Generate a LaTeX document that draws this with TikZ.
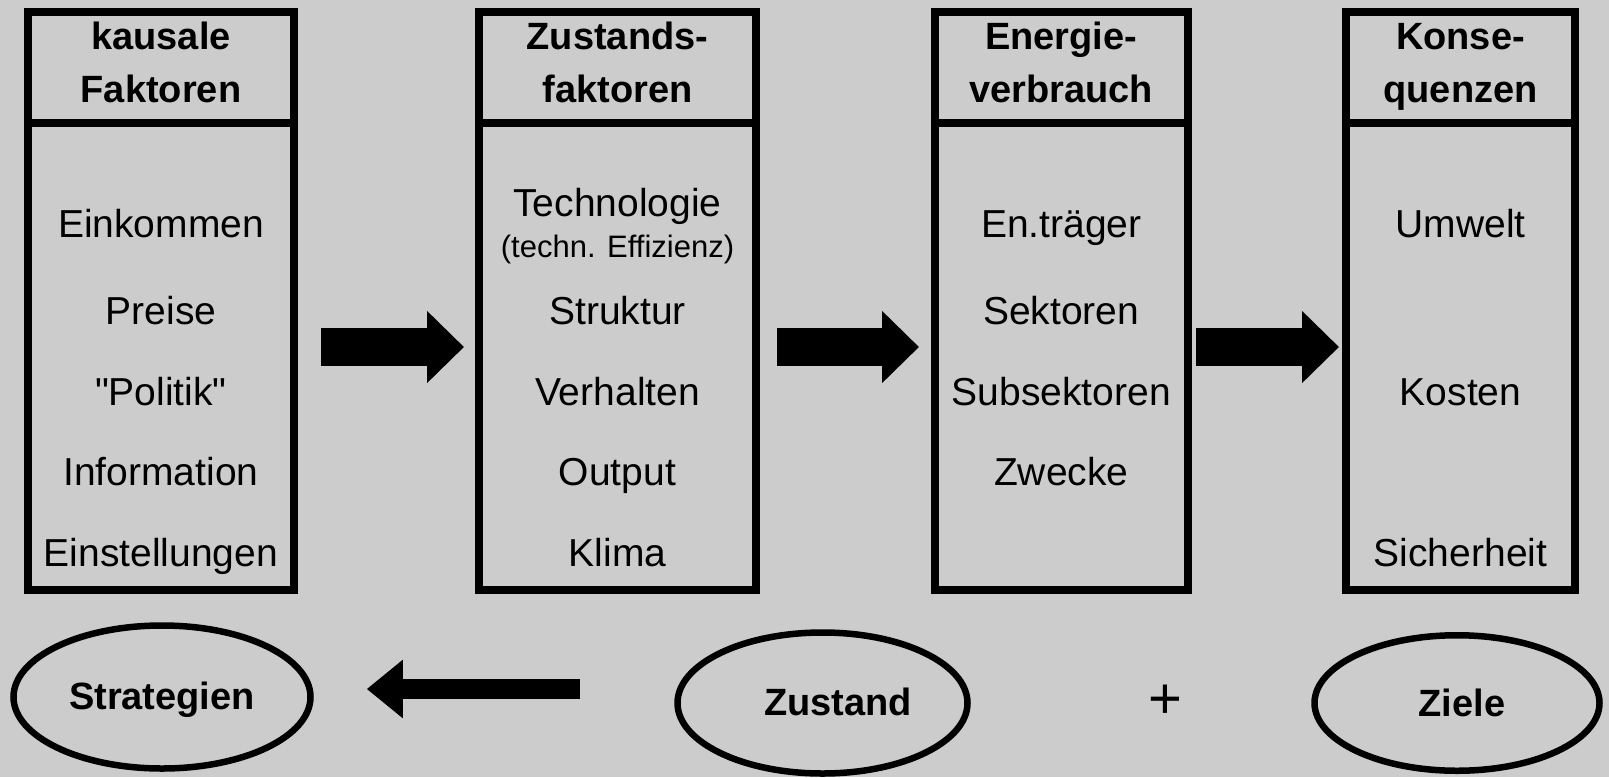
\documentclass[tikz,border=0pt]{standalone}
\usepackage{fontspec}
\setmainfont{Liberation Sans}
\usetikzlibrary{shapes.geometric, arrows.meta}

\definecolor{bggray}{RGB}{204,204,204}

\begin{document}
\begin{tikzpicture}[x=1pt, y=-1pt,
    panel/.style={draw=black, line width=8pt, rectangle, minimum height=578pt, inner sep=0pt},
    divider/.style={draw=black, line width=8pt},
    oval/.style={draw=black, line width=6.5pt, ellipse, inner sep=0pt},
    item/.style={anchor=base, font=\fontsize{39}{47}\selectfont, inner sep=0pt},
    small/.style={anchor=base, font=\fontsize{31}{37}\selectfont, inner sep=0pt},
    head/.style={anchor=base, font=\fontsize{38}{46}\selectfont\bfseries, inner sep=0pt},
    bigarrow/.style={line width=38pt, -{Triangle[length=37pt, width=70pt]}},
    backarrow/.style={line width=20pt, -{Triangle[length=36pt, width=56pt]}}]
    % Background
    \useasboundingbox (0,0) rectangle (1609,777);
    \fill[bggray] (0,0) rectangle (1609,777);
    % Boxes
    \node[panel, minimum width=266pt] (kausal) at (161,301) {};
    \node[panel, minimum width=277pt] (zustfak) at (617.5,301) {};
    \node[panel, minimum width=253.4pt] (energie) at (1061.3,301) {};
    \node[panel, minimum width=229pt] (konseq) at (1460.5,301) {};
    \draw[divider] (kausal.west |- 0,123) -- (kausal.east |- 0,123);
    \draw[divider] (zustfak.west |- 0,123) -- (zustfak.east |- 0,123);
    \draw[divider] (energie.west |- 0,123) -- (energie.east |- 0,123);
    \draw[divider] (konseq.west |- 0,123) -- (konseq.east |- 0,123);
    % Headers
    \node[head] (kh1) at (161,49) {kausale};
    \node[head] (kh2) at (161,102) {Faktoren};
    \node[head] (zh1) at (617.5,49) {Zustands-};
    \node[head] (zh2) at (617.5,102) {faktoren};
    \node[head] (eh1) at (1061.3,49) {Energie-};
    \node[head] (eh2) at (1061.3,102) {verbrauch};
    \node[head] (qh1) at (1460.5,49) {Konse-};
    \node[head] (qh2) at (1460.5,102) {quenzen};
    % kausale Faktoren
    \node[item] (k1) at (161,237) {Einkommen};
    \node[item] (k2) at (161,324) {Preise};
    \node[item] (k3) at (161,405) {\textquotedbl Politik\textquotedbl};
    \node[item] (k4) at (161,485) {Information};
    \node[item] (k5) at (161,566) {Einstellungen};
    % Zustandsfaktoren
    \node[item] (z1) at (617.5,216) {Technologie};
    \node[small] (z1b) at (617.5,257) {(techn. Effizienz)};
    \node[item] (z2) at (617.5,324) {Struktur};
    \node[item] (z3) at (617.5,405) {Verhalten};
    \node[item] (z4) at (617.5,485) {Output};
    \node[item] (z5) at (617.5,566) {Klima};
    % Energieverbrauch
    \node[item] (e1) at (1061.3,237) {En.träger};
    \node[item] (e2) at (1061.3,324) {Sektoren};
    \node[item] (e3) at (1061.3,405) {Subsektoren};
    \node[item] (e4) at (1061.3,485) {Zwecke};
    % Konsequenzen
    \node[item] (q1) at (1460.5,237) {Umwelt};
    \node[item] (q2) at (1460.5,405) {Kosten};
    \node[item] (q3) at (1460.5,566) {Sicherheit};
    % Block arrows
    \draw[bigarrow, shorten <=23pt, shorten >=11pt] (kausal.east |- 0,347) -- (zustfak.west |- 0,347);
    \draw[bigarrow, shorten <=17pt, shorten >=11.6pt] (zustfak.east |- 0,347) -- (energie.west |- 0,347);
    \draw[bigarrow, shorten <=4pt, shorten >=3pt] (energie.east |- 0,347) -- (konseq.west |- 0,347);
    % Ovals
    \node[oval, minimum width=297pt, minimum height=143pt] (stratov) at (162,697) {};
    \node[oval, minimum width=290pt, minimum height=141pt] (zustov) at (822.5,703) {};
    \node[oval, minimum width=285pt, minimum height=135.5pt] (zielov) at (1457,703) {};
    \node[head] (strat) at (162,709) {Strategien};
    \node[head] (zust) at (838,715) {Zustand};
    \node[head] (ziel) at (1462,716) {Ziele};
    \node[item, font=\fontsize{58}{64}\selectfont] (plus) at (1165.5,718) {+};
    % Back arrow
    \draw[backarrow, shorten <=94pt, shorten >=53pt] (zustov.west |- 0,689) -- (stratov.east |- 0,689);
\end{tikzpicture}
\end{document}
